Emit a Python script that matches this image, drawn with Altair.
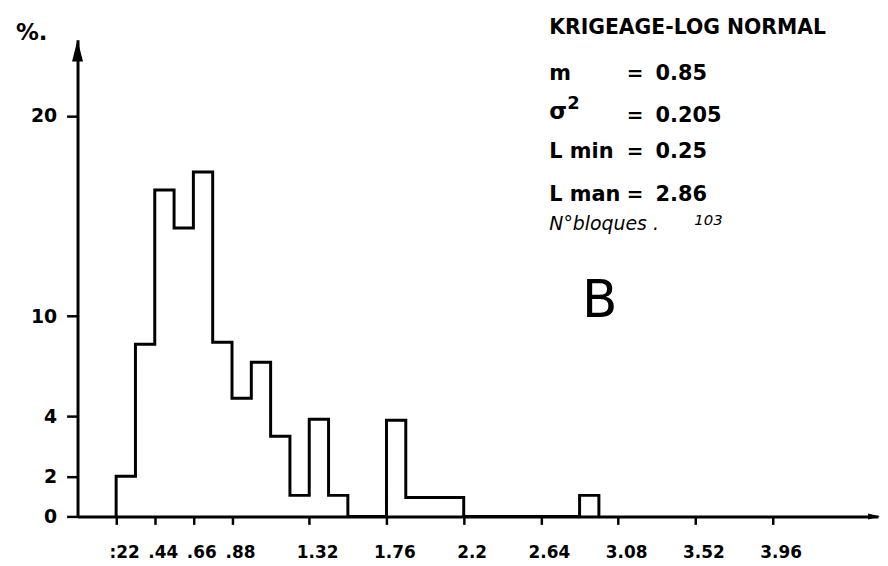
import altair as alt
import pandas as pd

# ---- data ----
bin_starts = [0.22, 0.33, 0.44, 0.55, 0.66, 0.77, 0.88, 0.99, 1.10, 1.21, 1.32, 1.43,
              1.54, 1.65, 1.76, 1.87, 1.98, 2.09, 2.20, 2.31, 2.42, 2.53, 2.64, 2.75, 2.86]
percent = [2.0, 8.6, 16.3, 14.4, 17.2, 8.7, 5.9, 7.7, 4.0, 1.05, 4.85, 1.05,
           0, 0, 4.8, 0.95, 0.95, 0.95, 0, 0, 0, 0, 0, 0, 1.05]
bin_width = 0.11

x_ticks = [0.22, 0.44, 0.66, 0.88, 1.32, 1.76, 2.2, 2.64, 3.08, 3.52, 3.96]
x_tick_labels = [":22", ".44", ".66", ".88", "1.32", "1.76", "2.2", "2.64", "3.08", "3.52", "3.96"]
y_ticks = [0, 2, 5, 10, 20]
y_tick_labels = ["0", "2", "4", "10", "20"]

y_unit = "%."
title_text = "KRIGEAGE-LOG NORMAL"
stat_names = ["m", "σ", "L min", "L man"]
stat_values = ["0.85", "0.205", "0.25", "2.86"]
blocks_text = "N°bloques ."
blocks_value = "103"
panel_letter = "B"

FONT = "DejaVu Sans"
W, H = 806, 480

# step outline of the histogram
xs = [bin_starts[0]] + bin_starts + [bin_starts[-1] + bin_width]
ys = [0] + percent + [0]
step_df = pd.DataFrame({"x": xs, "y": ys, "i": list(range(len(xs)))})


def label_expr(vals, labels):
    expr = "''"
    for v, l in reversed(list(zip(vals, labels))):
        expr = f"abs(datum.value - {v}) < 0.001 ? '{l}' : ({expr})"
    return expr


xscale = alt.Scale(domain=[0, 4.56], nice=False, zero=False)
yscale = alt.Scale(domain=[0, 23.8], nice=False)

hist = alt.Chart(step_df).mark_line(
    interpolate="step-after", color="black", strokeWidth=3, strokeJoin="miter"
).encode(
    x=alt.X("x:Q", scale=xscale, axis=alt.Axis(
        values=x_ticks, labelExpr=label_expr(x_ticks, x_tick_labels), title=None,
        grid=False, domainColor="black", domainWidth=3, tickColor="black",
        tickWidth=2.5, tickSize=8, labelFont=FONT, labelFontSize=17,
        labelFontWeight="bold", labelColor="black", labelPadding=20,
        labelOffset=8, labelFlush=False, labelOverlap=False)),
    y=alt.Y("y:Q", scale=yscale, axis=alt.Axis(
        values=y_ticks, labelExpr=label_expr(y_ticks, y_tick_labels), title=None,
        grid=False, domainColor="black", domainWidth=3, tickColor="black",
        tickWidth=2.5, tickSize=11, labelFont=FONT, labelFontSize=19,
        labelFontWeight="bold", labelColor="black", labelPadding=10,
        labelFlush=False, labelOverlap=False)),
    order="i:Q",
)


def one():
    return alt.Data(values=[{"a": 1}])


def txt(text, px, py, size, weight="bold", style="normal", font=FONT):
    return alt.Chart(one()).mark_text(
        text=text, align="left", baseline="alphabetic", font=font,
        fontSize=size, fontWeight=weight, fontStyle=style, color="black"
    ).encode(x=alt.value(px), y=alt.value(py))


arrow_up = alt.Chart(one()).mark_point(
    shape="M0,-1L0.5,1L-0.5,1Z", filled=True, size=484, color="black", opacity=1
).encode(x=alt.value(0), y=alt.value(11))
arrow_right = alt.Chart(one()).mark_point(
    shape="M1,0L-1,-0.5L-1,0.5Z", filled=True, size=144, color="black", opacity=1
).encode(x=alt.value(W - 4), y=alt.value(H))

layers = [hist, arrow_up, arrow_right,
          txt(y_unit, -62, 0, 23),
          txt(title_text, 475, -6, 20.5)]
baselines = [41, 83, 119, 162]
for name, val, b in zip(stat_names, stat_values, baselines):
    size = 23 if name == "σ" else 21
    layers.append(txt(name, 475, b - (3 if name == "σ" else 0), size))
    layers.append(txt("=", 553, b, 20))
    layers.append(txt(val, 582, b, 21))
layers.append(txt("2", 493, 70, 18))
layers.append(txt(blocks_text, 475, 192, 19, weight="normal", style="italic"))
layers.append(txt(blocks_value, 621, 187, 15, weight="normal", style="italic"))
layers.append(txt(panel_letter, 508, 279, 52, weight="normal"))

chart = alt.layer(*layers).properties(
    width=W, height=H,
    autosize=alt.AutoSizeParams(type="none"),
    padding={"left": 70, "top": 30, "right": 2, "bottom": 46},
    background="white",
).configure_view(stroke=None)

chart.save("out.html", embed_options={"renderer": "svg", "actions": False})
